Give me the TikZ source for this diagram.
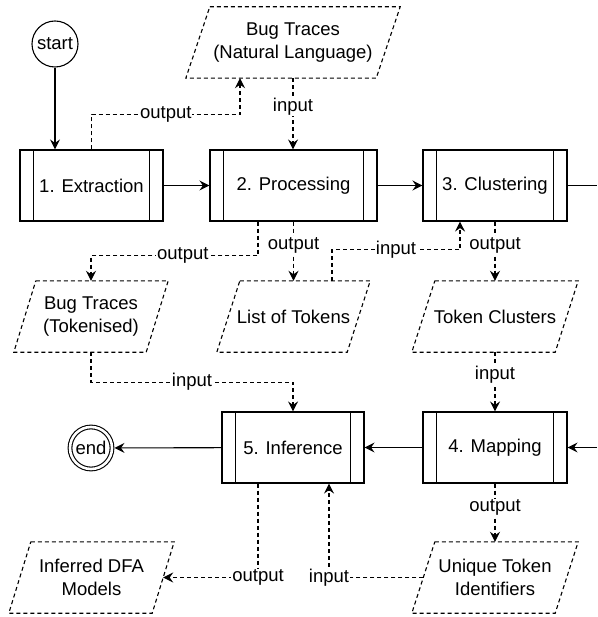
\documentclass[tikz,border=0pt]{standalone}
\usepackage{fontspec}
\setmainfont{Liberation Sans}
\usetikzlibrary{arrows.meta,calc}
\begin{document}
\begin{tikzpicture}[x=1pt,y=-1pt,
  txt/.style={font=\fontsize{18.5}{23}\selectfont},
  proc/.style={draw, line width=1.1pt, minimum height=71pt, inner sep=0pt, txt, align=center},
  data/.style={minimum height=71pt, inner sep=0pt, txt, align=center},
  term/.style={circle, draw, line width=1.1pt, inner sep=0pt, txt},
  solid line/.style={line width=1.1pt},
  flow/.style={solid line, -{Stealth[length=10pt,width=10pt,inset=3.5pt]}},
  io/.style={flow, dash pattern=on 4pt off 3pt},
  lbl/.style={fill=white, inner sep=1pt, txt},
  dataframe/.style={line width=1.1pt, dash pattern=on 4pt off 3pt},
]
\useasboundingbox (0,0) rectangle (597,617);

% terminals
\node[term, minimum size=46pt] (start) at (55,44) {start};
\node[term, minimum size=42pt, double, double distance=2.6pt, outer sep=2.5pt] (end) at (91,448) {end};

% process steps
\node[proc, minimum width=143pt] (ext) at (91.5,185.5) {1. Extraction};
\node[proc, minimum width=167pt] (proc) at (293.5,185.5) {2. Processing};
\node[proc, minimum width=144pt] (clu) at (495,185.5) {3. Clustering};
\node[proc, minimum width=144pt] (map) at (495,447.5) {4. Mapping};
\node[proc, minimum width=142pt] (inf) at (293,447.5) {5. Inference};
\foreach \n in {ext,proc,clu,map,inf}
  \draw[solid line] ($(\n.north west)+(14,0)$) -- ($(\n.south west)+(14,0)$)
                    ($(\n.north east)+(-14,0)$) -- ($(\n.south east)+(-14,0)$);

% data items
\node[data, minimum width=214pt] (bnl) at (293,42.5) {Bug Traces\\(Natural Language)};
\node[data, minimum width=154pt] (btk) at (91,316.5) {Bug Traces\\(Tokenised)};
\node[data, minimum width=153pt] (lot) at (293.5,316.5) {List of Tokens};
\node[data, minimum width=166pt] (tcl) at (495,316.5) {Token Clusters};
\node[data, minimum width=166pt] (uti) at (495,577.5) {Unique Token\\Identifiers};
\node[data, minimum width=165pt] (dfa) at (91.5,577.5) {Inferred DFA\\Models};
\foreach \n/\s in {bnl/24, btk/22, lot/23, tcl/23, uti/23, dfa/22}
  \draw[dataframe] ($(\n.north west)+(\s,0)$) -- (\n.north east)
     -- ($(\n.south east)+(-\s,0)$) -- (\n.south west) -- cycle;

% control flow
\coordinate (rout) at (597,185.5);
\coordinate (rin) at (597,447.5);
\draw[flow] (start) -- (start |- ext.north);
\draw[flow] (ext) -- (proc);
\draw[flow] (proc) -- (clu);
\draw[solid line] (clu) -- (rout);
\draw[flow] (rin) -- (map);
\draw[flow] (map) -- (inf);
\draw[flow] (inf) -- (end);

% data flow
\draw[io] (ext.north) -- ++(0,-35) -| node[lbl,pos=0.25]{output} ($(bnl.south)+(-53,0)$);
\draw[io] (bnl.south) -- node[lbl,pos=0.4]{input} (bnl.south |- proc.north);
\draw[io] ($(proc.south)+(-35.5,0)$) |- node[lbl,pos=0.725]{output} ($(btk.north)+(0,-25)$) -- (btk.north);
\draw[io] (proc.south -| lot.north) -- node[lbl,pos=0.4]{output} (lot.north);
\draw[io] ($(lot.north)+(38.5,0)$) -- ++(0,-31) -| node[lbl,pos=0.25]{input} ($(clu.south)+(-35,0)$);
\draw[io] (clu.south) -- node[lbl,pos=0.4]{output} (tcl.north);
\draw[io] (tcl.south) -- node[lbl,pos=0.38]{input} (map.north);
\draw[io] (map.south) -- node[lbl,pos=0.41]{output} (uti.north);
\draw[io] (btk.south) -- ++(0,30) -| node[lbl,pos=0.25]{input} (inf.north);
\draw[io] ($(uti.west)+(11.5,0)$) -| node[lbl,pos=0.5]{input} ($(inf.south)+(36,0)$);
\draw[io] ($(inf.south)+(-35,0)$) |- node[lbl,pos=0.5]{output} ($(dfa.east)+(-11,0)$);
\end{tikzpicture}
\end{document}
